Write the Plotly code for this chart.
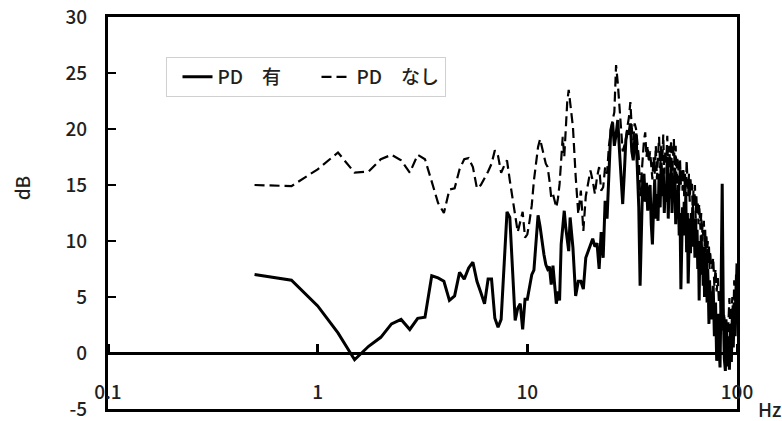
import plotly.graph_objects as go

# ---------------- data ----------------
freq_hz = [
    0.5, 0.75, 1.0, 1.25, 1.5, 1.75, 2.0, 2.25,
    2.5, 2.75, 3.0, 3.25, 3.5, 3.75, 4.0, 4.25,
    4.5, 4.75, 5.0, 5.25, 5.5, 5.75, 6.0, 6.25,
    6.5, 6.75, 7.0, 7.25, 7.5, 7.75, 8.0, 8.25,
    8.5, 8.75, 9.0, 9.25, 9.5, 9.75, 10.0, 10.25,
    10.5, 10.75, 11.0, 11.25, 11.5, 11.75, 12.0, 12.25,
    12.5, 12.75, 13.0, 13.25, 13.5, 13.75, 14.0, 14.25,
    14.5, 14.75, 15.0, 15.25, 15.5, 15.75, 16.0,
    16.5, 17.0, 17.5, 18.0, 18.5, 19.0, 19.5, 20.0,
    20.5, 21.0, 21.5, 22.0, 22.5, 23.0, 23.5, 24.0,
    24.5, 25.0, 25.5, 26.0, 26.5, 27.0, 27.5, 28.0,
    28.5, 29.0, 29.5, 30.0,
    30.5, 31.0, 31.5, 32.0, 32.5, 33.0, 33.5, 34.0, 34.5, 35.0,
    35.5, 36.0, 36.5, 37.0, 37.5, 38.0, 38.5, 39.0, 39.5, 40.0,
    40.5, 41.0, 41.5, 42.0, 42.5, 43.0, 43.5, 44.0, 44.5, 45.0,
    45.5, 46.0, 46.5, 47.0, 47.5, 48.0, 48.5, 49.0, 49.5, 50.0,
    50.5, 51.0, 51.5, 52.0, 52.5, 53.0, 53.5, 54.0, 54.5, 55.0,
    55.5, 56.0, 56.5, 57.0, 57.5, 58.0, 58.5, 59.0, 59.5, 60.0,
    60.5, 61.0, 61.5, 62.0, 62.5, 63.0, 63.5, 64.0, 64.5, 65.0,
    65.5, 66.0, 66.5, 67.0, 67.5, 68.0, 68.5, 69.0, 69.5, 70.0,
    70.5, 71.0, 71.5, 72.0, 72.5, 73.0, 73.5, 74.0, 74.5, 75.0,
    76, 77, 78, 79, 80, 81, 82, 83, 84, 85,
    86, 87, 88, 89, 90, 91, 92, 93, 94, 95,
    96, 97, 98, 99, 100,
]

pd_yes_db = [
    7.0, 6.5, 4.2, 1.8, -0.6, 0.6, 1.4, 2.6,
    3.0, 2.1, 3.1, 3.2, 6.9, 6.7, 6.4, 4.7,
    5.1, 7.2, 6.6, 7.6, 8.1, 6.4, 5.4, 4.4,
    6.6, 6.6, 3.1, 2.3, 3.0, 7.6, 12.6, 12.1,
    7.2, 2.9, 4.0, 4.4, 2.1, 4.8, 4.8, 6.0,
    7.0, 7.4, 10.0, 12.3, 11.3, 9.9, 8.8, 7.9,
    7.5, 7.7, 6.1, 7.8, 6.0, 4.4, 5.5, 4.7,
    9.7, 11.5, 12.7, 11.2, 10.3, 9.1, 12.1,
    9.4, 5.1, 6.4, 6.4, 5.7, 8.5, 9.1, 9.6,
    10.2, 9.5, 9.8, 7.5, 10.8, 8.5, 13.6, 12.0,
    15.4, 19.9, 20.6, 18.5, 19.5, 20.8, 18.1, 15.0,
    13.3, 16.0, 19.0, 19.8,
    19.5, 20.5, 18.0, 17.2, 19.0, 19.6, 16.5, 13.0, 6.0, 12.0,
    15.5, 16.0, 13.5, 15.2, 12.7, 14.5, 15.0, 11.5, 9.7, 13.0,
    15.5, 12.0, 14.2, 11.8, 16.0, 13.0, 17.0, 14.0, 16.5, 12.5,
    15.0, 13.5, 17.5, 12.0, 16.0, 13.8, 17.0, 12.5, 15.8, 14.0,
    16.5, 11.5, 14.5, 12.0, 15.0, 10.5, 12.5, 5.7, 9.5, 13.0,
    10.5, 13.5, 11.0, 14.0, 9.0, 12.5, 6.2, 11.0, 12.0, 8.9,
    12.5, 9.5, 13.0, 10.0, 11.5, 8.5, 12.0, 9.5, 11.0, 7.5,
    10.0, 4.7, 9.5, 7.0, 10.5, 8.0, 9.0, 6.0, 9.5, 5.0,
    8.5, 6.0, 9.0, 4.5, 7.5, 5.5, 2.6, 6.5, 4.0, 5.5,
    3.0, 6.0, 1.5, 4.5, -0.7, 3.5, 0.5, -1.3, 6.0, 15.1,
    4.0, -0.5, -1.6, 2.5, -1.2, 1.5, -1.5, 2.0, -0.8, 3.5,
    0.5, 4.5, 1.5, 5.5, 8.0,
]

pd_no_db = [
    15.0, 14.9, 16.4, 17.9, 16.1, 16.2, 17.3, 17.7,
    17.2, 16.1, 17.7, 17.3, 15.3, 13.4, 12.5, 14.6,
    14.7, 16.4, 17.3, 17.4, 16.6, 14.7, 15.0, 15.6,
    16.2, 16.9, 18.1, 17.6, 16.1, 16.7, 17.2, 15.4,
    13.6, 12.3, 10.8, 11.7, 12.6, 10.3, 10.6, 11.8,
    13.2, 15.4, 17.2, 18.4, 19.1, 18.2, 17.6, 16.9,
    16.6, 15.4, 13.9, 14.2, 13.6, 13.0, 13.8, 15.1,
    17.2, 19.3, 17.5, 20.0, 22.4, 23.5, 22.4,
    20.2, 15.8, 12.4, 14.5, 10.9, 14.0, 15.1, 16.3,
    15.4, 14.2, 15.7, 16.6, 14.5, 14.8, 16.6, 16.0,
    18.5, 19.9, 20.8, 21.5, 25.7, 24.1, 22.3, 20.0,
    18.0, 18.5, 19.0, 20.2,
    21.0, 22.4, 20.0, 19.0, 20.5, 20.0, 18.5, 17.5, 14.0, 16.0,
    17.5, 19.0, 19.7, 17.5, 18.5, 17.0, 18.0, 16.5, 15.5, 17.5,
    16.0, 18.5, 15.5, 17.5, 19.3, 16.5, 18.5, 17.0, 19.5, 16.0,
    18.0, 17.0, 19.4, 15.5, 18.5, 16.5, 19.0, 15.5, 18.0, 19.1,
    16.0, 18.5, 15.0, 17.5, 16.5, 14.5, 17.2, 15.0, 16.5, 14.5,
    16.5, 14.0, 16.0, 13.5, 17.2, 15.0, 14.0, 16.0, 13.5, 15.5,
    14.5, 15.1, 12.5, 14.5, 13.0, 15.0, 12.0, 14.0, 12.5, 13.5,
    11.5, 13.3, 12.0, 11.0, 12.5, 10.0, 11.5, 10.5, 11.8, 9.5,
    11.0, 9.0, 10.6, 8.5, 10.0, 8.0, 9.5, 7.5, 9.1, 8.0,
    7.5, 8.5, 6.0, 7.5, 5.5, 6.7, 4.5, 5.5, 3.5, 4.5,
    2.0, 3.5, 1.0, 3.0, 0.5, 2.5, 4.9, 1.5, 3.5, 5.0,
    2.5, 6.5, 4.0, 7.0, 5.0,
]

series_names = ["PD\u3000有", "PD\u3000なし"]
x_tick_vals = [0.1, 1, 10, 100]
x_tick_text = ["0.1", "1", "10", "100"]
y_tick_vals = [-5, 0, 5, 10, 15, 20, 25, 30]
y_tick_text = ["-5", "0", "5", "10", "15", "20", "25", "30"]
y_range = [-5, 30]
x_unit = "Hz"
y_title = "dB"

FONT = "Noto Sans CJK JP, Noto Sans, sans-serif"
TXT = "#231f20"
FS = 19
FW = 500

fig = go.Figure()
fig.add_trace(go.Scatter(
    x=freq_hz, y=pd_yes_db, mode="lines", name=series_names[0],
    line=dict(color="#000000", width=3), xaxis="x", yaxis="y",
    hoverinfo="skip",
))
fig.add_trace(go.Scatter(
    x=freq_hz, y=pd_no_db, mode="lines", name=series_names[1],
    line=dict(color="#000000", width=2.2, dash="10px,5px"), xaxis="x2", yaxis="y",
    hoverinfo="skip",
))

fig.update_layout(
    width=782, height=421,
    margin=dict(l=108, r=45, t=17, b=12),
    paper_bgcolor="white", plot_bgcolor="white",
    font=dict(family=FONT, size=FS, color=TXT, weight=FW),
    showlegend=True,
    legend=dict(
        orientation="h", x=0.093, y=0.898, xanchor="left", yanchor="top",
        bgcolor="white", bordercolor="#d0d0d0", borderwidth=1,
        font=dict(size=FS, color=TXT, weight=FW), itemwidth=30,
        indentation=10, entrywidth=84,
    ),
    xaxis=dict(
        type="log", range=[-1, 2], tickvals=x_tick_vals, ticktext=x_tick_text,
        ticks="", ticklabelposition="inside", ticklabeloverflow="allow",
        ticklabelstandoff=7, showline=True, mirror=True, automargin=False,
        linecolor="#000000", linewidth=3, showgrid=False, zeroline=False,
        tickfont=dict(size=FS, color=TXT, weight=FW),
    ),
    # the 0 dB line of the chart, with its small upward ticks at each decade
    xaxis2=dict(
        type="log", range=[-1, 2], overlaying="x", anchor="free",
        position=(0 - y_range[0]) / (y_range[1] - y_range[0]), side="top",
        tickvals=x_tick_vals, showticklabels=False, ticks="outside", ticklen=8,
        tickwidth=2.5, tickcolor="#000000", showline=True, linecolor="#000000",
        linewidth=2.5, showgrid=False, zeroline=False, automargin=False,
    ),
    yaxis=dict(
        range=y_range, tickvals=y_tick_vals, ticktext=y_tick_text,
        ticks="inside", ticklen=8,
        tickwidth=2, tickcolor="#000000", showline=True, mirror=True,
        linecolor="#000000", linewidth=3, showgrid=False, zeroline=False,
        ticklabelstandoff=14, automargin=False,
        tickfont=dict(size=FS, color=TXT, weight=FW),
    ),
    annotations=[
        dict(text=y_title, xref="paper", yref="y", x=0, y=14.7, xshift=-87,
             xanchor="center", yanchor="middle",
             textangle=-90, showarrow=False, font=dict(size=FS, color=TXT, weight=FW)),
        dict(text=x_unit, xref="paper", yref="paper", x=1, y=0, xshift=32,
             yshift=1, xanchor="center", yanchor="middle", showarrow=False,
             font=dict(size=FS, color=TXT, weight=FW)),
    ],
)

fig.write_html("out.html")
